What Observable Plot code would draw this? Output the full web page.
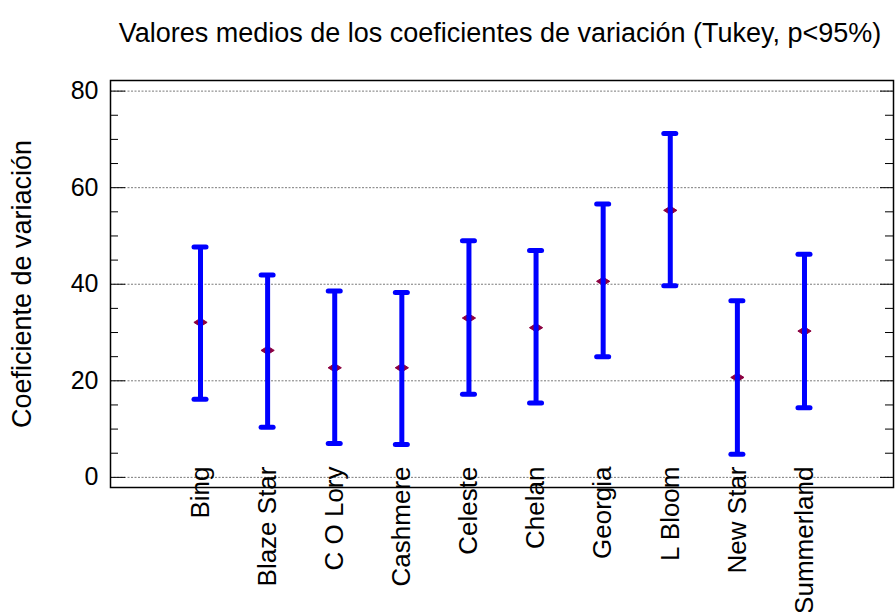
<!DOCTYPE html>
<html><head><meta charset="utf-8">
<script src="https://cdn.jsdelivr.net/npm/d3@7"></script>
<script src="https://cdn.jsdelivr.net/npm/@observablehq/plot@0.6"></script>
<style>body{margin:0;background:#fff}</style>
</head><body><div id="chart"></div>
<script>
const title = "Valores medios de los coeficientes de variación (Tukey, p<95%)";
const yLabel = "Coeficiente de variación";
const categories = ["Bing","Blaze Star","C O Lory","Cashmere","Celeste","Chelan","Georgia","L Bloom","New Star","Summerland"];
const means = [32.1, 26.3, 22.7, 22.7, 33.0, 31.0, 40.6, 55.3, 20.7, 30.3];
const lower = [16.2, 10.4, 7.0, 6.8, 17.2, 15.4, 25.0, 39.7, 4.8, 14.4];
const upper = [47.7, 41.9, 38.6, 38.3, 49.0, 47.0, 56.6, 71.2, 36.6, 46.2];
const majorTicks = [0, 20, 40, 60, 80];
const minorTicks = [5, 10, 15, 25, 30, 35, 45, 50, 55, 65, 70, 75];

const data = categories.map((c, i) => ({cat: c, mean: means[i], lo: lower[i], hi: upper[i]}));

const W = 896, H = 612, mL = 110, mR = 3, mT = 80, mB = 125;
const frameW = W - mL - mR;
const FONT = "'Liberation Sans', Arial, sans-serif";
const blue = "#0000ff";

// wide, flat diamond marker
const wideDiamond = {
  draw(ctx, size) {
    const r = Math.sqrt(size) * 0.68;
    ctx.moveTo(-r, 0);
    ctx.lineTo(0, -r * 0.62);
    ctx.lineTo(r, 0);
    ctx.lineTo(0, r * 0.62);
    ctx.closePath();
  }
};

const chart = Plot.plot({
  width: W, height: H,
  marginLeft: mL, marginRight: mR, marginTop: mT, marginBottom: mB,
  style: {fontFamily: FONT, background: "#fff", color: "#000"},
  x: {type: "band", domain: categories, paddingInner: 0.821, paddingOuter: 0, round: false, insetLeft: 84, insetRight: 83, axis: null},
  y: {domain: [-2.1, 82.2], axis: null},
  marks: [
    Plot.ruleY(majorTicks, {stroke: "#7a7a7a", strokeDasharray: "2,1.5", strokeWidth: 1}),
    Plot.ruleY(majorTicks, {stroke: "#000", insetRight: frameW - 15}),
    Plot.ruleY(majorTicks, {stroke: "#000", insetLeft: frameW - 13}),
    Plot.ruleY(minorTicks, {stroke: "#000", insetRight: frameW - 8}),
    Plot.ruleY(minorTicks, {stroke: "#000", insetLeft: frameW - 8}),
    Plot.axisY({ticks: majorTicks, tickSize: 0, tickPadding: 12, fontSize: 25, label: null}),
    Plot.dot(data, {x: "cat", y: "mean", symbol: wideDiamond, r: 5.5, fill: "#8b0040", stroke: "#8b0040", strokeWidth: 1}),
    Plot.ruleX(data, {x: "cat", y1: "lo", y2: "hi", stroke: blue, strokeWidth: 5}),
    Plot.tickY(data, {x: "cat", y: "lo", stroke: blue, strokeWidth: 5, strokeLinecap: "round"}),
    Plot.tickY(data, {x: "cat", y: "hi", stroke: blue, strokeWidth: 5, strokeLinecap: "round"}),
    Plot.text(categories, {x: d => d, frameAnchor: "bottom", rotate: -90, textAnchor: "end", lineAnchor: "middle", dy: -21, fontSize: 26, fill: "#000"}),
    Plot.text([yLabel], {frameAnchor: "left", rotate: -90, dx: -88, fontSize: 27, textAnchor: "middle", lineAnchor: "middle", fill: "#000"}),
    Plot.text([title], {frameAnchor: "top", dy: -47, dx: -2, fontSize: 27, lineAnchor: "middle", fill: "#000"}),
    Plot.frame({stroke: "#000", strokeWidth: 1.5})
  ]
});
document.getElementById("chart").appendChild(chart);
</script>
</body></html>
